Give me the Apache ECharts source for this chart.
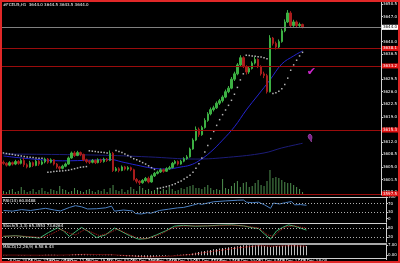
<!DOCTYPE html>
<html><head><meta charset="utf-8">
<script src="https://cdn.jsdelivr.net/npm/echarts@6/dist/echarts.min.js"></script>
<style>html,body{margin:0;padding:0;background:#000;}#c{width:400px;height:263px;}</style>
</head><body><div id="c"></div>
<script>
const opens = [3606.3,3606.0,3605.5,3606.2,3605.8,3606.5,3606.0,3606.8,3605.6,3605.0,3606.2,3605.4,3606.6,3605.8,3606.4,3607.2,3606.3,3607.0,3605.8,3605.0,3604.6,3605.2,3605.8,3607.5,3608.9,3608.2,3609.0,3608.5,3607.0,3606.5,3606.3,3606.8,3606.2,3607.0,3606.5,3607.2,3606.8,3608.8,3604.0,3604.5,3604.0,3605.0,3604.4,3604.8,3604.2,3601.5,3601.0,3600.6,3601.2,3601.8,3600.8,3602.5,3603.2,3603.6,3604.2,3603.8,3604.5,3604.8,3606.0,3606.5,3605.8,3606.6,3607.3,3607.8,3610.0,3612.5,3615.5,3614.0,3616.0,3618.0,3619.8,3621.0,3621.5,3622.8,3623.5,3624.5,3626.0,3627.0,3629.5,3631.0,3633.5,3635.5,3633.0,3631.5,3632.5,3634.0,3635.0,3633.0,3631.0,3630.5,3626.0,3641.0,3639.5,3638.5,3640.0,3643.0,3645.5,3648.0,3644.5,3645.5,3644.5,3644.8];
const closes = [3606.0,3605.5,3606.2,3605.8,3606.5,3606.0,3606.8,3605.6,3605.0,3606.2,3605.4,3606.6,3605.8,3606.4,3607.2,3606.3,3607.0,3605.8,3605.0,3604.6,3605.2,3605.8,3607.5,3608.9,3608.2,3609.0,3608.5,3607.0,3606.5,3606.3,3606.8,3606.2,3607.0,3606.5,3607.2,3606.8,3608.8,3604.0,3604.5,3604.0,3605.0,3604.4,3604.8,3604.2,3601.5,3601.0,3600.6,3601.2,3601.8,3600.8,3602.5,3603.2,3603.6,3604.2,3603.8,3604.5,3604.8,3606.0,3606.5,3605.8,3606.6,3607.3,3607.8,3610.0,3612.5,3615.5,3614.0,3616.0,3618.0,3619.8,3621.0,3621.5,3622.8,3623.5,3624.5,3626.0,3627.0,3629.5,3631.0,3633.5,3635.5,3633.0,3631.5,3632.5,3634.0,3635.0,3633.0,3631.0,3630.5,3626.0,3641.0,3639.5,3638.5,3640.0,3643.0,3645.5,3648.0,3644.5,3645.5,3644.5,3644.8,3644.0];
const lows = [3605.6,3605.1,3605.2,3605.4,3605.5,3605.6,3605.7,3605.0,3604.6,3604.8,3605.0,3605.2,3605.3,3605.5,3606.0,3605.9,3606.0,3605.4,3604.5,3604.1,3604.3,3604.9,3605.6,3607.3,3607.8,3608.0,3608.0,3606.6,3606.0,3605.8,3606.0,3605.8,3606.0,3606.1,3606.2,3606.4,3606.6,3603.6,3603.7,3603.5,3603.8,3604.0,3604.0,3603.8,3601.2,3600.4,3600.0,3600.3,3600.9,3600.4,3600.6,3602.2,3602.9,3603.3,3603.4,3603.6,3604.2,3604.6,3605.7,3605.4,3605.6,3606.3,3607.0,3607.6,3609.8,3612.2,3613.4,3613.7,3615.7,3617.6,3619.4,3620.5,3621.2,3622.3,3623.0,3624.2,3625.6,3626.7,3629.0,3630.6,3633.0,3632.6,3630.8,3631.0,3632.2,3633.6,3632.6,3630.5,3629.8,3625.5,3625.8,3638.9,3637.8,3638.1,3639.7,3642.6,3645.2,3644.0,3644.1,3644.0,3644.1,3643.7];
const highs = [3606.8,3606.3,3606.6,3606.5,3607.0,3606.9,3607.3,3607.5,3606.0,3606.7,3606.5,3607.0,3606.9,3606.9,3607.6,3607.5,3607.4,3607.2,3606.1,3605.3,3605.6,3606.2,3607.9,3609.3,3609.4,3609.5,3609.3,3608.7,3607.3,3606.9,3607.2,3607.1,3607.4,3607.3,3607.6,3607.5,3609.6,3609.2,3605.0,3604.9,3605.4,3605.3,3605.2,3605.1,3604.5,3601.9,3601.3,3601.6,3602.2,3602.3,3602.9,3603.6,3604.0,3604.6,3604.5,3604.9,3605.3,3606.4,3606.9,3606.8,3607.0,3607.7,3608.3,3610.4,3613.0,3616.3,3616.0,3616.5,3618.6,3620.3,3621.6,3622.1,3623.3,3624.0,3625.0,3626.6,3627.6,3630.1,3631.6,3634.0,3636.2,3635.9,3633.4,3633.0,3634.5,3635.7,3635.3,3633.4,3631.6,3631.0,3641.8,3641.3,3640.0,3640.6,3643.6,3646.2,3648.8,3648.5,3646.1,3645.9,3645.3,3645.0];
const volumes = [200,150,250,300,150,200,400,250,150,200,300,150,250,350,200,150,300,250,200,450,300,250,150,200,350,250,200,150,250,300,200,150,250,200,300,150,350,500,250,200,300,150,250,400,300,200,450,350,250,300,200,250,350,200,300,250,400,300,200,250,350,300,400,450,500,350,350,300,400,500,350,250,300,250,800,350,300,450,600,700,400,600,650,400,450,600,750,500,450,700,1250,850,900,850,750,650,600,600,500,400,300,150];
const fastMA = [[0,3608.05],[10,3607.2],[20,3606.7],[30,3606.9],[36,3607.1],[40,3606.4],[45,3605.5],[50,3604.7],[55,3604.4],[60,3605.0],[63,3605.5],[66,3606.7],[70,3609.2],[74,3612.5],[78,3616.2],[82,3620.9],[86,3625.1],[90,3629.3],[94,3633.75],[98,3636.0],[101,3637.4]];
const slowMA = [[0,3608.6],[32,3608.3],[49,3607.8],[65,3607.2],[76,3607.7],[88,3608.9],[94,3610.3],[101,3611.6]];
const sar = [[0,3608.9],[1,3608.75],[2,3608.6],[3,3608.5],[4,3608.3],[5,3608.2],[6,3608.05],[7,3607.9],[8,3607.8],[9,3607.7],[10,3607.6],[11,3607.5],[12,3607.45],[13,3607.4],
 [15,3603.5],[16,3603.6],[17,3603.7],[18,3603.8],[19,3603.85],[20,3603.9],[21,3604.0],[22,3604.1],[23,3604.3],[24,3604.5],[25,3604.7],[26,3604.9],[27,3605.0],[28,3605.1],
 [29,3609.5],[30,3609.4],[31,3609.3],[32,3609.2],[33,3609.1],[34,3609.0],[35,3608.9],
 [38,3609.6],[39,3609.3],[40,3609.0],[41,3608.6],[42,3608.2],[43,3607.8],[44,3607.3],[45,3607.0],[46,3606.6],[47,3606.2],[48,3605.8],[49,3605.3],[50,3604.8],[51,3604.3],
 [52,3599.0],[53,3599.1],[54,3599.3],[55,3599.5],[56,3599.7],[57,3600.0],[58,3600.3],[59,3600.7],[60,3601.1],[61,3601.6],[62,3602.1],[63,3602.7],[64,3603.5],[65,3604.6],[66,3605.9],[67,3607.5],[68,3609.2],[69,3611.0],[70,3612.9],[71,3614.9],[72,3616.6],[73,3618.2],[74,3619.6],[75,3620.9],[76,3622.2],[77,3623.6],[78,3625.3],[79,3627.2],[80,3629.3],[81,3631.0],
 [82,3636.2],[83,3636.1],[84,3636.0],[85,3635.9],[86,3635.8],[87,3635.7],[88,3635.5],[89,3635.2],
 [91,3625.5],[92,3625.7],[93,3626.1],[94,3626.8],[95,3628.0],[96,3629.8],[97,3632.0],[98,3633.5],[99,3634.8],[100,3636.0],[101,3637.0]];
const rsi = [[0,38],[3,35],[6,42],[9,38],[12,44],[14,48],[17,40],[19,36],[22,52],[24,60],[26,55],[28,45],[31,46],[34,50],[36,58],[37,35],[40,40],[43,36],[44,24],[46,22],[48,28],[49,25],[52,38],[55,44],[58,50],[60,52],[63,62],[65,70],[66,66],[70,78],[74,82],[78,85],[80,86],[81,76],[83,74],[85,76],[87,64],[89,48],[90,72],[92,68],[94,74],[96,79],[97,64],[99,65],[101,62]];
const stochK = [[0,25],[4,30],[8,22],[12,15],[15,50],[18,80],[20,60],[22,25],[24,55],[26,82],[28,60],[31,18],[34,35],[37,78],[39,60],[42,30],[45,8],[48,12],[51,35],[54,60],[57,90],[60,95],[64,90],[68,92],[72,96],[76,98],[80,92],[83,80],[85,75],[87,40],[89,8],[91,60],[93,82],[95,98],[97,90],[99,78],[101,65]];
const stochD = [[0,28],[5,28],[9,24],[13,18],[16,40],[19,70],[22,45],[24,35],[27,68],[29,55],[32,30],[35,45],[38,72],[41,45],[44,20],[47,10],[50,22],[53,45],[56,75],[59,90],[64,92],[70,92],[76,96],[81,90],[85,78],[88,35],[90,25],[92,60],[94,85],[97,92],[99,84],[101,78]];
const macdHist = [0.2,0.1,0.0,-0.1,0.0,0.1,0.2,0.1,-0.1,-0.2,
 -0.1,0.0,0.1,0.1,0.3,0.3,0.4,0.3,0.1,-0.1,
 -0.2,-0.1,0.2,0.5,0.7,0.9,0.9,0.7,0.5,0.4,
 0.3,0.2,0.3,0.2,0.3,0.3,0.5,0.0,-0.3,-0.5,
 -0.6,-0.7,-0.7,-0.8,-1.1,-1.3,-1.5,-1.5,-1.4,-1.4,
 -1.2,-1.0,-0.8,-0.6,-0.5,-0.3,-0.1,0.1,0.3,0.3,
 0.5,0.6,0.8,1.2,1.7,2.3,2.6,3.0,3.4,3.8,
 4.2,4.5,4.8,5.1,5.3,5.6,5.8,6.1,6.4,6.8,
 7.1,7.1,7.0,7.0,7.0,7.1,6.9,6.6,6.3,5.8,
 6.4,6.6,6.6,6.7,6.9,7.2,7.5,7.3,7.1,6.9,
 6.7,6.6];
const macdSignal = [[0,0.1],[12,0.0],[20,0.1],[27,0.6],[36,0.35],[42,-0.4],[48,-1.2],[53,-1.0],[58,-0.3],[64,0.9],[70,2.8],[78,5.2],[85,6.8],[90,6.4],[96,6.8],[101,6.45]];
const priceTicks = [3598,3601.5,3605,3608.5,3612,3615.5,3619,3622.5,3626,3629.5,3633,3636.5,3640,3643.5,3647,3650.5];
const levels = [3638.1,3633.2,3615.3,3597.5];
const lastPrice = 3644.0;
const rsiTicks = [0,30,70,100];
const rsiLevels = [70,30];
const stochTicks = [20,80];
const stochLevels = [80,20];
const macdTicks = [0,7];
const timeLabels = ['8 Dec 2014','8 Dec 22:00','9 Dec 05:00','9 Dec 12:00','9 Dec 19:00','10 Dec 02:00','10 Dec 10:00','10 Dec 16:00','10 Dec 23:00','11 Dec 07:00','11 Dec 13:00','11 Dec 20:00','12 Dec 04:00','12 Dec 11:00','12 Dec 18:00'];
const timeIdx = [2,9,15,21,28,35,43,49,56,64,70,77,85,92,99];
const checkMark = [104,3631.5];
const handMark = [104,3612.0];
const headTexts = ['#FCEU5,H1  3644.0 3644.5 3643.5 3644.0','RSI(14) 60.8488','Stoch(5,3,3) 65.3553 73.6264','MACD(12,26,9) 6.58 6.43'];

const slots = 128;
const cats = new Array(slots).fill('');
timeIdx.forEach((k,j)=>{cats[k]=timeLabels[j];});
const ohlc = opens.map((o,i)=>[o,closes[i],lows[i],highs[i]]);
const F = 'DejaVu Sans';
const lbl = {color:'#ffffff',fontSize:4,fontFamily:F};
const axC = '#d0d0d0';
const hiddenX = (g,pos,col,w)=>({type:'category',gridIndex:g,data:cats,boundaryGap:true,position:pos,
  axisLine:{show:!!col,onZero:false,lineStyle:{color:col||'#000',width:w||1}},axisTick:{show:false},axisLabel:{show:false},splitLine:{show:false}});
const yRight = (g,min,max,vals,fmt)=>({type:'value',gridIndex:g,position:'right',min:min,max:max,
  splitLine:{show:false},axisLine:{show:true,lineStyle:{color:axC}},
  axisTick:{show:true,length:2,customValues:vals,lineStyle:{color:axC}},
  axisLabel:Object.assign({},lbl,{margin:2,customValues:vals,formatter:fmt})});
const tStyle = {color:'#ffffff',fontSize:4,fontWeight:'normal',fontFamily:F};
const tops = [3,198.5,224,245];

const chart = echarts.init(document.getElementById('c'),null,{renderer:'canvas'});
chart.setOption({
  backgroundColor:'#000000',
  animation:false,
  title: headTexts.map((t,i)=>({text:t,left:3,top:tops[i],padding:0,textStyle:tStyle})),
  graphic:[{type:'rect',shape:{x:1,y:1,width:398,height:261},style:{fill:null,stroke:'#e02828',lineWidth:2},z:100}],
  grid:[
    {left:2,right:14,top:2,height:193},
    {left:2,right:14,top:197,height:25},
    {left:2,right:14,top:223,height:19},
    {left:2,right:14,top:244,height:14}
  ],
  xAxis:[
    hiddenX(0,'bottom',null),
    hiddenX(1,'top',axC,1),
    hiddenX(2,'top',axC,1),
    hiddenX(3,'top','#a8a8a8',2),
    {type:'category',gridIndex:3,data:cats,boundaryGap:true,position:'bottom',
     axisLine:{onZero:false,lineStyle:{color:axC}},
     axisTick:{show:true,length:2,interval:(i,v)=>v!=='',lineStyle:{color:axC}},
     axisLabel:Object.assign({},lbl,{interval:0,align:'left',margin:1})}
  ],
  yAxis:[
    yRight(0,3597.16,3651.06,priceTicks,v=>v.toFixed(1)),
    {type:'value',gridIndex:0,show:false,min:0,max:9650},
    yRight(1,-15,100,rsiTicks,v=>String(v)),
    yRight(2,-10,110,stochTicks,v=>String(v)),
    yRight(3,-2,8,macdTicks,v=>v.toFixed(2))
  ],
  series:[
    {type:'bar',xAxisIndex:0,yAxisIndex:1,data:volumes,barWidth:1,itemStyle:{color:'#4f8f4f'},z:1,silent:true},
    {type:'line',xAxisIndex:0,yAxisIndex:0,data:slowMA,smooth:0.4,showSymbol:false,lineStyle:{color:'#1c1c78',width:1},z:2},
    {type:'line',xAxisIndex:0,yAxisIndex:0,data:fastMA,smooth:0.4,showSymbol:false,lineStyle:{color:'#2424d0',width:1},z:2},
    {type:'candlestick',xAxisIndex:0,yAxisIndex:0,data:ohlc,barWidth:2,z:3,
     itemStyle:{color:'#3cb043',color0:'#a81c1c',borderColor:'#3cb043',borderColor0:'#a81c1c',borderWidth:1},
     markLine:{symbol:['none','none'],silent:true,
       label:{position:'end',distance:1,fontSize:4,fontFamily:F,padding:[1,1,0,1],formatter:p=>Number(p.value).toFixed(1)},
       data: levels.map(v=>({yAxis:v,lineStyle:{color:'#9a0c0c',width:1,type:'solid'},label:{backgroundColor:'#e01010',color:'#ffffff'}}))
         .concat([{yAxis:lastPrice,lineStyle:{color:'#808080',width:1,type:'solid'},label:{backgroundColor:'#ffffff',color:'#000000'}}])}},
    {type:'scatter',xAxisIndex:0,yAxisIndex:0,data:sar,symbol:'rect',symbolSize:1.5,itemStyle:{color:'#e0e0e0'},z:4},
    {type:'scatter',xAxisIndex:0,yAxisIndex:0,symbolSize:0,z:5,
     data:[{value:checkMark,label:{show:true,position:'inside',formatter:'\u2714',color:'#ff30ff',fontSize:11,fontFamily:F}}]},
    {type:'scatter',xAxisIndex:0,yAxisIndex:0,z:5,symbol:'pin',symbolSize:[6,9],symbolRotate:15,
     itemStyle:{color:'#9a2aa8',borderColor:'#d060e0',borderWidth:0.6},data:[handMark]},
    {type:'line',xAxisIndex:1,yAxisIndex:2,data:rsi,showSymbol:false,lineStyle:{color:'#4a7fc0',width:1},
     markLine:{symbol:['none','none'],silent:true,label:{show:false},lineStyle:{color:'#b0b0b0',type:[1,2],width:1},data:rsiLevels.map(v=>({yAxis:v}))}},
    {type:'line',xAxisIndex:2,yAxisIndex:3,data:stochK,showSymbol:false,lineStyle:{color:'#3cb371',width:1},
     markLine:{symbol:['none','none'],silent:true,label:{show:false},lineStyle:{color:'#b0b0b0',type:[1,2],width:1},data:stochLevels.map(v=>({yAxis:v}))}},
    {type:'line',xAxisIndex:2,yAxisIndex:3,data:stochD,showSymbol:false,lineStyle:{color:'#c02020',width:1,type:[1,1]}},
    {type:'bar',xAxisIndex:3,yAxisIndex:4,data:macdHist,barWidth:1,itemStyle:{color:'#c0c0c0'}},
    {type:'line',xAxisIndex:3,yAxisIndex:4,data:macdSignal,showSymbol:false,lineStyle:{color:'#d02020',width:1,type:[1,1]}}
  ]
});
</script></body></html>
